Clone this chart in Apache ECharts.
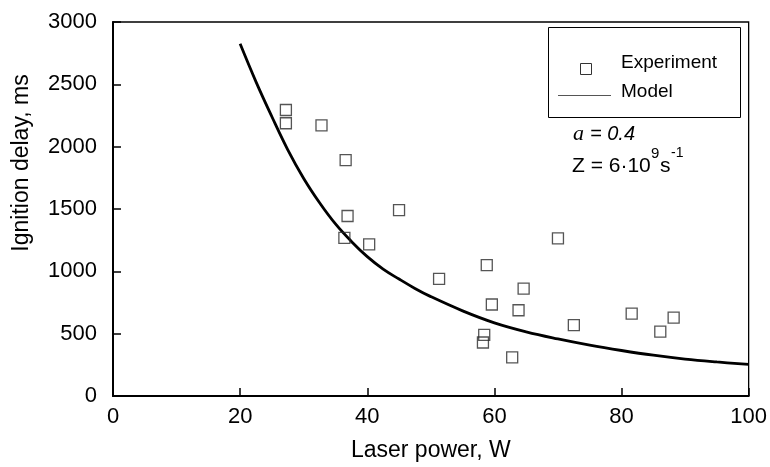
<!DOCTYPE html>
<html>
<head>
<meta charset="utf-8">
<script src="https://cdn.jsdelivr.net/npm/echarts@6/dist/echarts.min.js"></script>
<style>
  html, body { margin: 0; padding: 0; background: #fff; }
  #chart { width: 770px; height: 467px; }
</style>
</head>
<body>
<div id="chart"></div>
<script>
// Measured ignition delays
const expPower = [27.2, 27.2, 32.8, 36.6, 36.9, 45.0, 36.4, 40.3, 58.8, 51.3, 64.6, 70.0, 59.6, 63.8, 72.5, 81.6, 88.2, 86.1, 58.4, 58.2, 62.8];
const expDelay = [2294, 2188, 2170, 1892, 1444, 1491, 1269, 1216, 1050, 940, 861, 1264, 734, 688, 569, 660, 628, 517, 490, 429, 310];

// Model curve
const modelPower = [20, 22.5, 25, 27.5, 30, 32.5, 35, 37.5, 40, 42.5, 45, 47.5, 50, 55, 60, 65, 70, 75, 80, 85, 90, 95, 100];
const modelDelay = [2825, 2520, 2240, 1975, 1745, 1550, 1380, 1240, 1118, 1018, 938, 863, 797, 683, 587, 515, 458, 408, 365, 327, 296, 273, 254];

// Axis ticks
const xTicks = [0, 20, 40, 60, 80, 100];
const yTicks = [0, 500, 1000, 1500, 2000, 2500, 3000];

const FONT = "'Liberation Sans', Arial, sans-serif";
const SERIF = "'Liberation Serif', 'Times New Roman', serif";

const expData = expPower.map((p, i) => [p, expDelay[i]]);
const modelData = modelPower.map((p, i) => [p, modelDelay[i]]);

const chart = echarts.init(document.getElementById('chart'), null, { renderer: 'canvas' });

const axisCommon = {
  type: 'value',
  axisLine: { show: true, onZero: false, lineStyle: { color: '#000', width: 2 } },
  axisTick: { show: true, inside: true, length: 8, lineStyle: { color: '#000', width: 1.5 } },
  splitLine: { show: false },
  axisLabel: { color: '#000', fontFamily: FONT, fontSize: 22, formatter: v => String(v) }
};

chart.setOption({
  animation: false,
  backgroundColor: '#fff',
  grid: {
    left: 113, right: 21, top: 22, bottom: 68,
    show: true, borderColor: '#000', borderWidth: 1.3, backgroundColor: 'transparent'
  },
  xAxis: Object.assign({}, axisCommon, {
    min: xTicks[0], max: xTicks[xTicks.length - 1], interval: xTicks[1] - xTicks[0],
    name: 'Laser power, W',
    nameLocation: 'middle',
    nameGap: 43,
    nameTextStyle: { color: '#000', fontFamily: FONT, fontSize: 23 },
    axisLabel: Object.assign({}, axisCommon.axisLabel, { margin: 10 })
  }),
  yAxis: Object.assign({}, axisCommon, {
    min: yTicks[0], max: yTicks[yTicks.length - 1], interval: yTicks[1] - yTicks[0],
    axisLabel: Object.assign({}, axisCommon.axisLabel, { margin: 16 })
  }),
  series: [
    {
      name: 'Model',
      type: 'line',
      data: modelData,
      smooth: 0.4,
      showSymbol: false,
      symbol: 'none',
      lineStyle: { color: '#000', width: 2.8 },
      z: 2
    },
    {
      name: 'Experiment',
      type: 'scatter',
      data: expData,
      symbol: 'rect',
      symbolSize: 11,
      itemStyle: { color: 'rgba(255,255,255,0)', borderColor: '#2a2a2a', borderWidth: 1.3 },
      z: 3
    }
  ],
  graphic: [
    // y axis title
    {
      type: 'text', x: 22, y: 163, rotation: Math.PI / 2,
      style: { text: 'Ignition delay, ms', font: '23px ' + FONT, fill: '#000', align: 'center', verticalAlign: 'middle' }
    },
    // legend frame
    {
      type: 'rect', shape: { x: 548.5, y: 27.5, width: 192, height: 90 },
      style: { fill: '#fff', stroke: '#000', lineWidth: 1 }, z: 10
    },
    {
      type: 'rect', shape: { x: 580.5, y: 63.5, width: 11, height: 11 },
      style: { fill: 'none', stroke: '#333', lineWidth: 1 }, z: 11
    },
    {
      type: 'text', x: 621, y: 63, z: 11,
      style: { text: 'Experiment', font: '19px ' + FONT, fill: '#000', align: 'left', verticalAlign: 'middle' }
    },
    {
      type: 'line', shape: { x1: 558, y1: 95.5, x2: 611, y2: 95.5 },
      style: { stroke: '#555', lineWidth: 1 }, z: 11
    },
    {
      type: 'text', x: 621, y: 92, z: 11,
      style: { text: 'Model', font: '19px ' + FONT, fill: '#000', align: 'left', verticalAlign: 'middle' }
    },
    // model parameters
    {
      type: 'text', x: 573, y: 134,
      style: { text: 'a', font: 'italic 22px ' + SERIF, fill: '#000', align: 'left', verticalAlign: 'middle' }
    },
    {
      type: 'text', x: 590, y: 134,
      style: { text: '= 0.4', font: 'italic 20px ' + FONT, fill: '#000', align: 'left', verticalAlign: 'middle' }
    },
    {
      type: 'text', x: 572, y: 166,
      style: { text: 'Z = 6\u00B710', font: '21px ' + FONT, fill: '#000', align: 'left', verticalAlign: 'middle' }
    },
    {
      type: 'text', x: 651, y: 154,
      style: { text: '9', font: '15px ' + FONT, fill: '#000', align: 'left', verticalAlign: 'middle' }
    },
    {
      type: 'text', x: 660, y: 166,
      style: { text: 's', font: '21px ' + FONT, fill: '#000', align: 'left', verticalAlign: 'middle' }
    },
    {
      type: 'text', x: 671, y: 153,
      style: { text: '-1', font: '14px ' + FONT, fill: '#000', align: 'left', verticalAlign: 'middle' }
    }
  ]
});
</script>
</body>
</html>
